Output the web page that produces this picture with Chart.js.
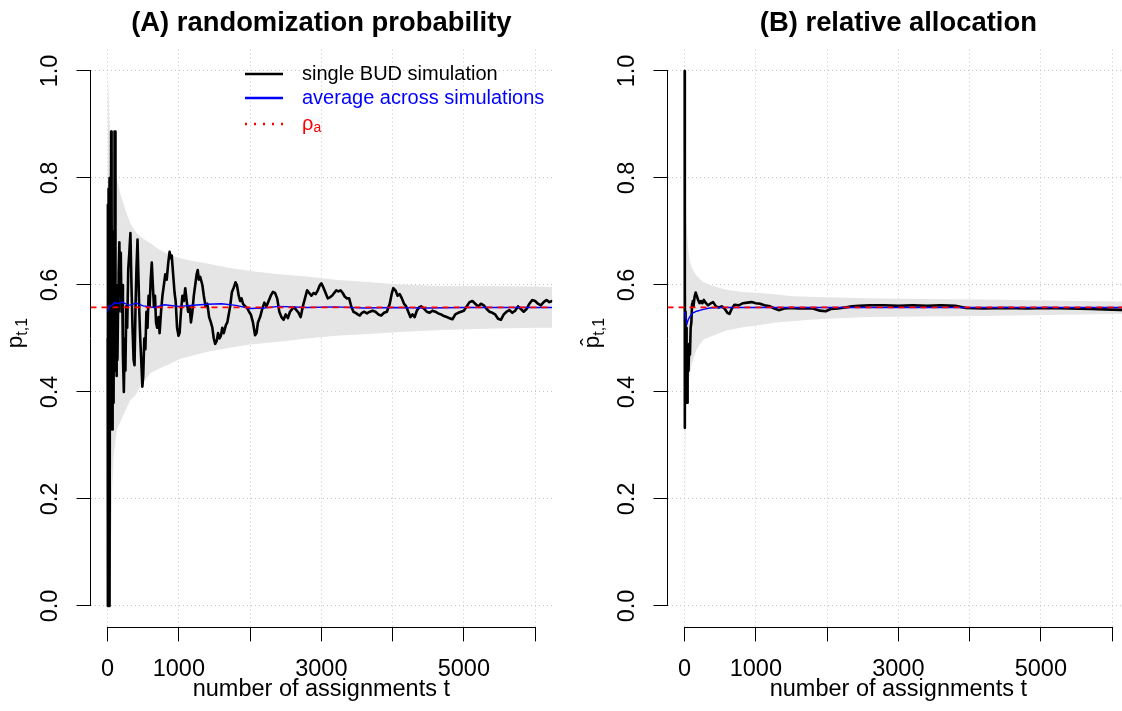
<!DOCTYPE html>
<html>
<head>
<meta charset="UTF-8">
<title>BUD simulation</title>
<script src="https://cdn.jsdelivr.net/npm/chart.js"></script>
<style>
html, body { margin: 0; padding: 0; background: #fff; overflow: hidden; }
#wrap { position: relative; width: 1122px; height: 711px; overflow: hidden; background: #fff; }
canvas { position: absolute; top: 0; }
#cA { left: 0; }
#cB { left: 577px; }
</style>
</head>
<body>
<div id="wrap">
<canvas id="cA" width="561" height="711"></canvas>
<canvas id="cB" width="561" height="711"></canvas>
</div>
<script>
// axes
const xTicks = [0, 1000, 2000, 3000, 4000, 5000, 6000];
const xTickShown = [0, 1000, 3000, 5000];
const yTicks = [0, 0.2, 0.4, 0.6, 0.8, 1.0];
const rhoA = 0.558;

// (A) single BUD simulation, p_t,1
const simA_t = [1,3,5,8,11,14,17,20,23,26,
  29,32,35,38,42,46,50,54,58,63,
  68,73,78,84,90,95,100,104,108,113,
  118,124,130,138,146,155,165,175,185,195,
  205,215,228,240,250,262,275,290,305,320,
  335,350,365,378,392,405,420,432,445,458,
  472,488,500,515,530,545,560,575,590,605,
  620,635,650,665,680,695,715,730,750,770,
  790,810,830,850,870,885,900,920,940,955,
  975,995,1010,1030,1050,1070,1090,1110,1130,1150,
  1170,1190,1210,1230,1250,1265,1280,1300,1330,1350,
  1375,1400,1425,1450,1470,1490,1510,1530,1550,1570,
  1590,1610,1630,1660,1680,1700,1720,1745,1770,1795,
  1815,1840,1860,1880,1900,1930,1960,1985,2010,2040,
  2070,2090,2110,2140,2170,2200,2230,2260,2290,2320,
  2350,2380,2410,2440,2470,2500,2530,2560,2590,2620,
  2650,2680,2710,2740,2770,2800,2830,2860,2890,2920,
  2950,2980,3000,3030,3060,3090,3120,3150,3180,3210,
  3240,3270,3300,3330,3360,3390,3420,3450,3480,3510,
  3540,3570,3600,3640,3680,3720,3760,3800,3840,3880,
  3920,3960,3990,4010,4040,4070,4100,4130,4160,4190,
  4220,4250,4280,4310,4340,4370,4400,4440,4480,4520,
  4560,4600,4640,4680,4720,4760,4800,4840,4880,4920,
  4960,5000,5040,5080,5120,5160,5200,5240,5280,5320,
  5360,5400,5440,5480,5520,5560,5600,5640,5680,5720,
  5760,5800,5840,5880,5920,5960,6000,6040,6080,6120,
  6160,6200,6240];
const simA_p = [0.50,0.75,0.00,0.70,0.08,0.78,0.00,0.66,0.15,0.80,
  0.33,0.00,0.72,0.36,0.65,0.45,0.887,0.40,0.76,0.33,
  0.70,0.42,0.62,0.38,0.66,0.47,0.887,0.52,0.887,0.44,
  0.60,0.43,0.58,0.46,0.55,0.62,0.68,0.58,0.66,0.55,
  0.60,0.47,0.40,0.50,0.44,0.56,0.52,0.63,0.66,0.697,
  0.60,0.52,0.46,0.45,0.56,0.63,0.685,0.62,0.55,0.50,
  0.46,0.41,0.43,0.50,0.48,0.55,0.52,0.58,0.56,0.61,
  0.642,0.60,0.56,0.58,0.53,0.52,0.54,0.51,0.55,0.58,
  0.60,0.62,0.61,0.64,0.662,0.65,0.655,0.62,0.585,0.57,
  0.52,0.505,0.51,0.55,0.58,0.57,0.594,0.57,0.55,0.56,
  0.53,0.55,0.58,0.60,0.62,0.628,0.61,0.615,0.60,0.58,
  0.56,0.565,0.54,0.53,0.52,0.50,0.49,0.495,0.51,0.50,
  0.505,0.52,0.51,0.525,0.53,0.545,0.56,0.587,0.595,0.605,
  0.60,0.58,0.57,0.575,0.565,0.56,0.557,0.55,0.545,0.53,
  0.506,0.51,0.53,0.54,0.555,0.567,0.56,0.57,0.58,0.587,
  0.585,0.575,0.55,0.54,0.535,0.545,0.538,0.55,0.555,0.558,
  0.553,0.548,0.54,0.56,0.575,0.59,0.585,0.58,0.585,0.583,
  0.59,0.60,0.603,0.595,0.585,0.575,0.577,0.58,0.585,0.59,
  0.588,0.59,0.585,0.578,0.575,0.575,0.56,0.55,0.548,0.545,
  0.543,0.548,0.55,0.547,0.55,0.552,0.55,0.545,0.543,0.548,
  0.55,0.565,0.585,0.594,0.59,0.58,0.583,0.575,0.565,0.56,
  0.55,0.54,0.545,0.54,0.552,0.558,0.56,0.556,0.55,0.548,
  0.552,0.55,0.547,0.545,0.542,0.54,0.538,0.536,0.545,0.548,
  0.55,0.552,0.56,0.568,0.57,0.565,0.56,0.565,0.562,0.555,
  0.55,0.548,0.545,0.537,0.535,0.545,0.55,0.553,0.548,0.552,
  0.56,0.555,0.55,0.555,0.565,0.572,0.57,0.565,0.562,0.568,
  0.572,0.568,0.57];

// (A) average across simulations
const avgA_t = [1,20,60,100,150,200,300,400,500,650,800,1000,1200,1400,1600,1800,2000,2200,2400,2800,3200,3600,4000,4500,5000,5500,6240];
const avgA_p = [0.55,0.56,0.562,0.567,0.565,0.568,0.562,0.566,0.561,0.558,0.563,0.56,0.562,0.564,0.565,0.562,0.556,0.557,0.56,0.558,0.559,0.557,0.558,0.557,0.558,0.558,0.558];

// (A) grey band across simulations
const bandA_t  = [1,15,30,45,65,85,130,180,250,320,390,460,600,740,880,1020,1160,1400,1700,2000,2400,2800,3200,3600,4100,4700,5300,6000,6240];
const bandA_hi = [1.0,0.95,0.90,0.87,0.85,0.83,0.80,0.77,0.74,0.715,0.70,0.69,0.678,0.665,0.656,0.65,0.646,0.64,0.632,0.626,0.62,0.616,0.61,0.606,0.601,0.598,0.598,0.597,0.596];
const bandA_lo = [0.0,0.0,0.0,0.10,0.22,0.28,0.33,0.345,0.365,0.385,0.394,0.41,0.435,0.445,0.453,0.462,0.467,0.475,0.482,0.489,0.494,0.50,0.505,0.508,0.512,0.516,0.518,0.52,0.52];

// (B) single BUD simulation, relative allocation
const simB_t = [1,2,3,5,7,10,14,18,22,26,
  30,34,38,42,47,55,65,75,85,95,
  105,115,125,140,155,170,190,210,230,250,
  270,300,330,360,400,440,480,520,560,600,
  630,660,700,760,820,880,940,1000,1060,1120,
  1200,1260,1320,1400,1500,1600,1700,1800,1900,1980,
  2050,2150,2250,2350,2450,2600,2800,3000,3200,3400,
  3600,3800,3950,4200,4500,4800,5100,5400,5700,6000,
  6240];
const simB_p = [1.0,0.5,0.333,0.6,0.43,0.55,0.40,0.53,0.42,0.52,
  0.40,0.38,0.45,0.40,0.46,0.44,0.49,0.47,0.52,0.53,
  0.565,0.57,0.56,0.578,0.586,0.58,0.572,0.566,0.57,0.566,
  0.572,0.566,0.562,0.565,0.568,0.56,0.558,0.56,0.556,0.548,
  0.546,0.555,0.563,0.562,0.566,0.567,0.568,0.566,0.565,0.562,
  0.56,0.556,0.553,0.556,0.557,0.556,0.556,0.556,0.552,0.551,
  0.555,0.556,0.558,0.56,0.561,0.562,0.562,0.561,0.562,0.561,
  0.562,0.561,0.557,0.556,0.557,0.556,0.557,0.556,0.555,0.554,
  0.553];

const avgB_t = [1,15,35,50,80,120,170,250,350,500,1000,2000,3000,4000,5000,6240];
const avgB_p = [0.55,0.54,0.528,0.535,0.542,0.548,0.551,0.554,0.557,0.558,0.558,0.558,0.558,0.558,0.558,0.558];

const bandB_t  = [1,10,25,48,70,94,118,164,210,258,350,585,820,1052,1287,1520,1750,1988,2550,3300,4190,5100,6070,6240];
const bandB_hi = [1.0,0.80,0.72,0.67,0.647,0.635,0.628,0.618,0.612,0.606,0.60,0.591,0.587,0.585,0.582,0.579,0.578,0.577,0.575,0.574,0.573,0.571,0.569,0.569];
const bandB_lo = [0.0,0.30,0.38,0.417,0.43,0.447,0.46,0.478,0.488,0.497,0.503,0.515,0.521,0.525,0.53,0.532,0.535,0.537,0.54,0.541,0.542,0.544,0.546,0.546];

const FONT = '"Liberation Sans", Arial, Helvetica, sans-serif';
const XMIN = -240, XMAX = 6240;

function pts(t, p) {
  return t.map((v, i) => ({ x: v, y: p[i] }));
}

// R style axis lines: only from first to last tick
const axisLines = {
  id: 'axisLines',
  afterDraw(chart) {
    const ctx = chart.ctx, a = chart.chartArea;
    const sx = chart.scales.x, sy = chart.scales.y;
    ctx.save();
    ctx.strokeStyle = '#000';
    ctx.lineWidth = 1;
    const yb = Math.round(a.bottom) + 0.5;
    ctx.beginPath();
    ctx.moveTo(sx.getPixelForValue(xTicks[0]), yb);
    ctx.lineTo(sx.getPixelForValue(xTicks[xTicks.length - 1]), yb);
    const xl = Math.round(a.left) - 0.5;
    ctx.moveTo(xl, sy.getPixelForValue(yTicks[0]));
    ctx.lineTo(xl, sy.getPixelForValue(yTicks[yTicks.length - 1]));
    ctx.stroke();
    ctx.restore();
  }
};

// y axis label with subscript (and hat for panel B)
const yLabel = {
  id: 'yLabel',
  afterDraw(chart, args, o) {
    if (!o.show) return;
    const ctx = chart.ctx;
    ctx.save();
    ctx.fillStyle = '#000';
    ctx.translate(o.x, o.y);
    ctx.rotate(-Math.PI / 2);
    ctx.textBaseline = 'alphabetic';
    ctx.textAlign = 'left';
    ctx.font = o.size + 'px ' + FONT;
    const wMain = ctx.measureText('p').width;
    ctx.font = o.subSize + 'px ' + FONT;
    const wSub = ctx.measureText('t,1').width;
    const x0 = -(wMain + wSub) / 2;
    ctx.font = o.size + 'px ' + FONT;
    ctx.fillText('p', x0, 0);
    if (o.hat) {
      ctx.textAlign = 'center';
      ctx.fillText('\u02C6', x0 + wMain * 0.5, -3);
      ctx.textAlign = 'left';
    }
    ctx.font = o.subSize + 'px ' + FONT;
    ctx.fillText('t,1', x0 + wMain, o.subDrop);
    ctx.restore();
  }
};

// legend inside panel A
const inLegend = {
  id: 'inLegend',
  afterDraw(chart, args, o) {
    if (!o.show) return;
    const ctx = chart.ctx;
    const rows = [
      { text: 'single BUD simulation', color: '#000000', dash: [], y: 74 },
      { text: 'average across simulations', color: '#0000ff', dash: [], y: 98 },
      { text: '\u03C1', sub: 'a', color: '#ff0000', dash: [2, 7], y: 124 }
    ];
    ctx.save();
    rows.forEach(r => {
      ctx.strokeStyle = r.color;
      ctx.lineWidth = 2.5;
      ctx.setLineDash(r.dash);
      ctx.beginPath();
      ctx.moveTo(245, r.y);
      ctx.lineTo(283, r.y);
      ctx.stroke();
      ctx.fillStyle = r.color;
      ctx.textBaseline = 'middle';
      ctx.textAlign = 'left';
      ctx.font = '20px ' + FONT;
      ctx.fillText(r.text, 302, r.y);
      if (r.sub) {
        const w = ctx.measureText(r.text).width;
        ctx.font = '14px ' + FONT;
        ctx.fillText(r.sub, 302 + w, r.y + 4);
      }
    });
    ctx.restore();
  }
};

function makePanel(id, cfg) {
  const datasets = [
    { data: pts(cfg.bandT, cfg.bandHi), borderWidth: 0, borderColor: 'rgba(0,0,0,0)',
      backgroundColor: '#e5e5e5', fill: '+1', pointRadius: 0, order: 4 },
    { data: pts(cfg.bandT, cfg.bandLo), borderWidth: 0, borderColor: 'rgba(0,0,0,0)',
      fill: false, pointRadius: 0, order: 5 },
    { data: pts(cfg.simT, cfg.simP), borderColor: '#000000', borderWidth: 2.6,
      borderJoinStyle: 'round', borderCapStyle: 'round', fill: false, pointRadius: 0, order: 3 },
    { data: pts(cfg.avgT, cfg.avgP), borderColor: '#0000ff', borderWidth: 1.4,
      fill: false, pointRadius: 0, order: 2 },
    { data: [{ x: XMIN, y: rhoA }, { x: XMAX, y: rhoA }], borderColor: '#ff0000', borderWidth: 1.8,
      borderDash: [6, 5], fill: false, pointRadius: 0, order: 1 }
  ];

  return new Chart(document.getElementById(id), {
    type: 'line',
    data: { datasets },
    options: {
      responsive: false,
      animation: false,
      events: [],
      layout: { padding: { left: 0, right: 8.8, top: 0, bottom: 0 } },
      plugins: {
        legend: { display: false },
        tooltip: { enabled: false },
        title: {
          display: true, text: cfg.title, color: '#000', fullSize: false,
          font: { family: FONT, size: 27.4, weight: 'bold' },
          padding: { top: 7.5, bottom: 9.2 }
        },
        yLabel: { show: true, x: 21.5, y: 333, size: 22.5, subSize: 16, subDrop: 5, hat: cfg.hat },
        inLegend: { show: cfg.legend }
      },
      scales: {
        x: {
          type: 'linear', min: XMIN, max: XMAX,
          afterBuildTicks: s => { s.ticks = xTicks.map(v => ({ value: v })); },
          afterFit: s => { s.height = 83.6; },
          ticks: {
            autoSkip: false, maxRotation: 0, minRotation: 0, padding: 14, color: '#000',
            font: { family: FONT, size: 23.5 },
            callback: v => xTickShown.includes(v) ? String(v) : ''
          },
          grid: { color: '#c4c4c4', lineWidth: 1, tickColor: '#000', tickLength: 14, tickWidth: 1, tickBorderDash: [] },
          border: { display: false, dash: [1, 3] },
          title: {
            display: true, text: 'number of assignments t', color: '#000',
            font: { family: FONT, size: 23.5 }, padding: { top: 0, bottom: 7 }
          }
        },
        y: {
          type: 'linear', min: -0.04, max: 1.04,
          afterBuildTicks: s => { s.ticks = yTicks.map(v => ({ value: v })); },
          afterFit: s => { s.width = 90.5; },
          ticks: {
            minRotation: 90, maxRotation: 90, crossAlign: 'center', padding: 10, color: '#000',
            font: { family: FONT, size: 23.5 },
            callback: v => v.toFixed(1)
          },
          grid: { color: '#c4c4c4', lineWidth: 1, tickColor: '#000', tickLength: 14, tickWidth: 1, tickBorderDash: [] },
          border: { display: false, dash: [1, 3] }
        }
      }
    },
    plugins: [axisLines, yLabel, inLegend]
  });
}

makePanel('cA', {
  title: '(A) randomization probability', hat: false, legend: true,
  simT: simA_t, simP: simA_p, avgT: avgA_t, avgP: avgA_p,
  bandT: bandA_t, bandHi: bandA_hi, bandLo: bandA_lo
});
makePanel('cB', {
  title: '(B) relative allocation', hat: true, legend: false,
  simT: simB_t, simP: simB_p, avgT: avgB_t, avgP: avgB_p,
  bandT: bandB_t, bandHi: bandB_hi, bandLo: bandB_lo
});
</script>
</body>
</html>
